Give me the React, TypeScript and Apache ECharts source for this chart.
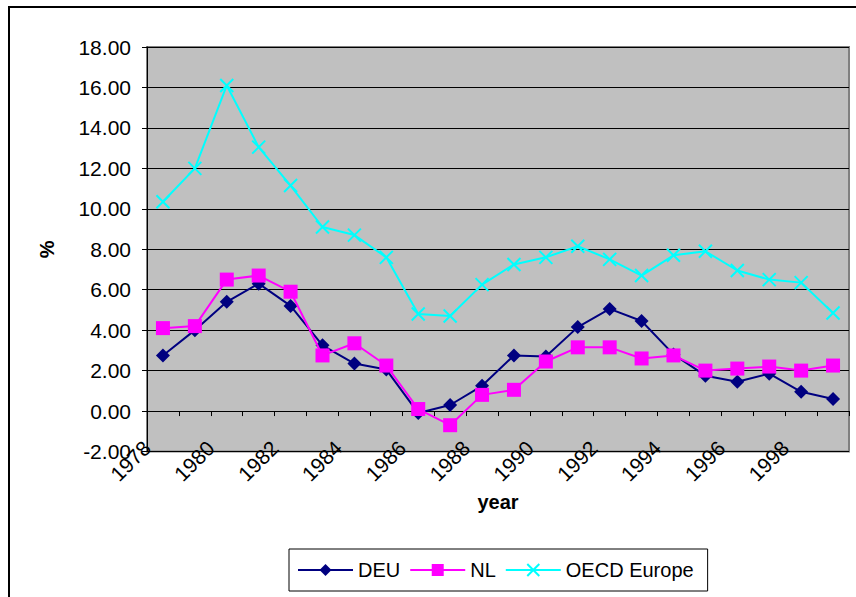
import React, { useEffect, useRef } from "react";
import * as echarts from "echarts";

const years = ["1978","1979","1980","1981","1982","1983","1984","1985","1986","1987","1988","1989","1990","1991","1992","1993","1994","1995","1996","1997","1998","1999"];
const deu = [2.75, 4.0, 5.4, 6.3, 5.2, 3.25, 2.35, 2.05, -0.1, 0.3, 1.25, 2.75, 2.7, 4.15, 5.05, 4.45, 2.8, 1.75, 1.45, 1.85, 0.95, 0.6];
const nl = [4.1, 4.2, 6.5, 6.7, 5.9, 2.75, 3.35, 2.25, 0.1, -0.7, 0.8, 1.05, 2.45, 3.15, 3.15, 2.6, 2.75, 2.0, 2.1, 2.2, 2.0, 2.25];
const oecd = [10.35, 12.0, 16.1, 13.05, 11.15, 9.1, 8.7, 7.6, 4.8, 4.7, 6.25, 7.25, 7.6, 8.15, 7.5, 6.7, 7.7, 7.9, 6.95, 6.5, 6.35, 4.85];

const FONT = '"Liberation Sans", Arial, sans-serif';
const X_SYMBOL = "path://M0,0 L10,10 M10,0 L0,10";

export default function App() {
  const ref = useRef<HTMLDivElement>(null);
  useEffect(() => {
    if (!ref.current) return;
    const chart = echarts.init(ref.current, undefined, { renderer: "svg" });
    chart.setOption({
      animation: false,
      backgroundColor: "#ffffff",
      textStyle: { fontFamily: FONT },
      graphic: [
        {
          type: "rect",
          shape: { x: 9, y: 7, width: 870, height: 620 },
          style: { fill: "none", stroke: "#000", lineWidth: 2 },
          z: 100,
          silent: true,
        },
      ],
      grid: {
        left: 147,
        top: 47,
        width: 702,
        height: 404.5,
        show: true,
        backgroundColor: "#C0C0C0",
        borderColor: "#808080",
        borderWidth: 2,
        containLabel: false,
        outerBoundsMode: "none",
      },
      legend: {
        left: 289,
        top: 549,
        orient: "horizontal",
        padding: [11, 14, 11, 8],
        itemGap: 9,
        itemWidth: 55,
        itemHeight: 15,
        borderColor: "#000",
        borderWidth: 1,
        backgroundColor: "#fff",
        textStyle: { fontFamily: FONT, fontSize: 20, color: "#000" },
        data: ["DEU", "NL", "OECD Europe"],
      },
      xAxis: [
        {
          type: "category",
          data: years,
          boundaryGap: true,
          axisLine: { show: true, onZero: true, lineStyle: { color: "#000", width: 1 } },
          axisTick: { show: true, interval: 0, length: 5, inside: false, lineStyle: { color: "#000" } },
          axisLabel: { show: false },
          splitLine: { show: false },
        },
        {
          type: "value",
          min: 0,
          max: years.length,
          interval: 2,
          position: "bottom",
          axisLine: { show: false, onZero: false },
          axisTick: { show: false },
          splitLine: { show: false },
          axisLabel: {
            rotate: 45,
            margin: -7,
            fontSize: 21,
            color: "#000",
            fontFamily: FONT,
            formatter: (v: number) => years[v] ?? "",
          },
          name: "year",
          nameLocation: "middle",
          nameGap: 39,
          nameTextStyle: { fontFamily: FONT, fontSize: 20, fontWeight: "bold", color: "#000" },
        },
      ],
      yAxis: {
        type: "value",
        min: -2,
        max: 18,
        interval: 2,
        axisLine: { show: true, lineStyle: { color: "#000", width: 1 } },
        axisTick: { show: true, length: 5, inside: false, lineStyle: { color: "#000" } },
        axisLabel: {
          margin: 16,
          fontSize: 21,
          color: "#000",
          fontFamily: FONT,
          formatter: (v: number) => v.toFixed(2),
        },
        splitLine: { show: true, lineStyle: { color: "#000", width: 1 } },
        name: "%",
        nameLocation: "middle",
        nameRotate: 90,
        nameGap: 90,
        nameTextStyle: { fontFamily: FONT, fontSize: 20, fontWeight: "bold", color: "#000" },
      },
      series: [
        {
          name: "DEU",
          type: "line",
          data: deu,
          symbol: "diamond",
          symbolSize: 14,
          lineStyle: { color: "#000080", width: 2 },
          itemStyle: { color: "#000080" },
          z: 3,
        },
        {
          name: "NL",
          type: "line",
          data: nl,
          symbol: "rect",
          symbolSize: 14,
          lineStyle: { color: "#FF00FF", width: 2 },
          itemStyle: { color: "#FF00FF" },
          z: 4,
        },
        {
          name: "OECD Europe",
          type: "line",
          data: oecd,
          symbol: X_SYMBOL,
          symbolSize: 13,
          lineStyle: { color: "#00FFFF", width: 2 },
          itemStyle: { color: "#00FFFF", borderColor: "#00FFFF", borderWidth: 2 },
          z: 2,
        },
      ],
    });
    return () => chart.dispose();
  }, []);
  return (
    <div
      ref={ref}
      style={{ position: "fixed", left: 0, top: 0, width: 856, height: 597, background: "#fff" }}
    />
  );
}
